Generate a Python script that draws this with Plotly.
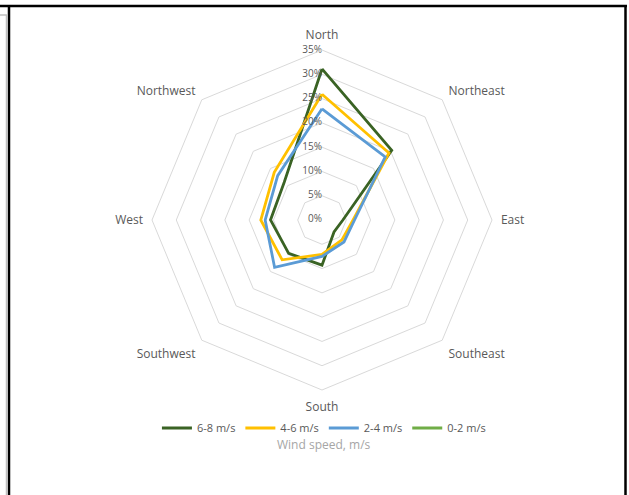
import plotly.graph_objects as go

directions = ["North", "Northeast", "East", "Southeast", "South", "Southwest", "West", "Northwest"]
series_names = ["6-8 m/s", "4-6 m/s", "2-4 m/s", "0-2 m/s"]
speed_6_8 = [31.1, 20.3, 4.3, 3.5, 9.3, 9.7, 10.6, 11.0]
speed_4_6 = [25.9, 19.5, 6.4, 5.8, 7.1, 11.6, 12.6, 13.9]
speed_2_4 = [22.9, 18.4, 6.7, 6.4, 7.5, 13.8, 11.7, 12.9]
speed_0_2 = [None] * 8
colors = ["#3A6324", "#FFC000", "#5B9BD5", "#70AD47"]
radial_ticks = [0, 5, 10, 15, 20, 25, 30, 35]
radial_labels = [f"{v}%" for v in radial_ticks]

W, H = 629, 495
cx, cy, R = 322, 220, 170

fig = go.Figure()
for name, vals, col in zip(series_names, [speed_6_8, speed_4_6, speed_2_4, speed_0_2], colors):
    fig.add_trace(go.Scatterpolar(
        r=vals + [vals[0]], theta=directions + [directions[0]],
        mode="lines", name=name, line=dict(color=col, width=2.8),
        connectgaps=False, hoverinfo="skip"))

# radial tick labels placed along the North axis, left of it
# (a tiny offset keeps the 0% label from being dropped at the exact pole)
fig.add_trace(go.Scatterpolar(
    r=[max(v, 0.02) for v in radial_ticks], theta=["North"] * len(radial_ticks), mode="text",
    text=radial_labels, textposition="middle left", cliponaxis=False,
    textfont=dict(size=10, color="#595959"), showlegend=False, hoverinfo="skip"))

fig.update_layout(
    width=W, height=H,
    margin=dict(l=0, r=0, t=0, b=0),
    paper_bgcolor="white", plot_bgcolor="white",
    font=dict(family="Open Sans, Noto Sans, sans-serif", color="#595959", size=11),
    polar=dict(
        domain=dict(x=[(cx - R) / W, (cx + R) / W], y=[1 - (cy + R) / H, 1 - (cy - R) / H]),
        gridshape="linear",
        bgcolor="white",
        angularaxis=dict(direction="clockwise", rotation=90, showgrid=False,
                         showline=True, linecolor="#D9D9D9", linewidth=1,
                         ticks="outside", ticklen=6, tickcolor="rgba(0,0,0,0)",
                         tickfont=dict(size=12, color="#595959")),
        radialaxis=dict(range=[0, 35], tickvals=radial_ticks, showticklabels=False,
                        angle=90, showline=False, ticks="", gridcolor="#D9D9D9", gridwidth=1),
    ),
    showlegend=True,
    legend=dict(orientation="h", x=0.515, xanchor="center", y=1 - 428 / H, yanchor="middle",
                font=dict(size=11, color="#595959"), itemwidth=30,
                tracegroupgap=0, bgcolor="rgba(0,0,0,0)"),
    annotations=[dict(text="Wind speed, m/s", x=0.515, y=1 - 444 / H, xref="paper", yref="paper",
                      showarrow=False, xanchor="center", yanchor="middle",
                      font=dict(size=12, color="#A6A6A6"))],
    shapes=[
        dict(type="line", xref="paper", yref="paper", x0=0, x1=627 / W, y0=1 - 6 / H, y1=1 - 6 / H,
             line=dict(color="black", width=2.5)),
        dict(type="line", xref="paper", yref="paper", x0=9 / W, x1=9 / W, y0=1 - 5 / H, y1=0,
             line=dict(color="black", width=2.5)),
        dict(type="line", xref="paper", yref="paper", x0=625.5 / W, x1=625.5 / W, y0=1 - 5 / H, y1=0,
             line=dict(color="black", width=2.5)),
        dict(type="line", xref="paper", yref="paper", x0=0, x1=7 / W, y0=1 - 15 / H, y1=1 - 15 / H,
             line=dict(color="#BFBFBF", width=1.5)),
        dict(type="line", xref="paper", yref="paper", x0=6.5 / W, x1=6.5 / W, y0=1 - 15 / H, y1=0,
             line=dict(color="#BFBFBF", width=1.5)),
    ],
)

fig.write_html("out.html")
